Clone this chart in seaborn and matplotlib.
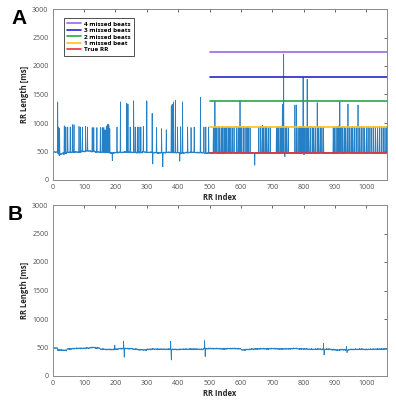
import numpy as np
import pandas as pd
import matplotlib
matplotlib.use("Agg")
import matplotlib.pyplot as plt
import seaborn as sns

N_BEATS = 1065
BLOCK = 15

# ---- Panel A data ----
a_base = [490, 455, 470, 485, 490, 490, 500, 510, 500, 490,
          485, 480, 475, 480, 485, 490, 485, 480, 480, 490,
          485, 480, 475, 480, 485, 480, 480, 470, 480, 485,
          480, 480, 470, 475, 480, 474, 474, 474, 474, 474,
          474, 474, 474, 474, 474, 474, 474, 474, 474, 474,
          474, 474, 474, 474, 474, 474, 474, 474, 474, 474,
          474, 474, 474, 474, 474, 474, 474, 474, 474, 474, 474]

a_spike_idx = [15, 17, 21, 36, 41, 47, 55, 62, 67, 83, 88, 94, 104, 110, 125, 130,
               140, 151, 157, 162, 166, 170, 173, 176, 178, 181, 204, 215, 235, 239,
               246, 257, 262, 269, 274, 280, 288, 299, 316, 330, 346, 361, 377, 380,
               384, 390, 397, 407, 413, 429, 440, 450, 470, 481, 487, 496,
               511, 516, 520, 526, 531, 536, 540, 545, 549, 553, 558, 562, 567, 572,
               577, 585, 590, 594, 596, 600, 606, 612, 618, 622, 628,
               656, 662, 667, 671, 676, 681, 686, 692,
               712, 716, 720, 725, 729, 731, 735, 740, 745, 750,
               771, 776, 781, 786, 790, 794, 797, 801, 806, 810, 815, 820,
               826, 831, 836, 842, 847, 852, 857, 862,
               893, 897, 902, 907, 911, 914, 918, 923, 928, 933, 938, 940, 945, 950,
               955, 960, 966, 972, 977, 982, 988, 993, 999, 1004, 1010, 1016, 1022,
               1028, 1034, 1040, 1046, 1052, 1058, 1063]
a_spike_val = [1370, 930, 910, 950, 930, 930, 930, 970, 970, 940, 930, 930, 940, 930, 920, 920,
               920, 920, 920, 920, 880, 940, 970, 980, 960, 900, 930, 1370, 1350, 1330,
               930, 1390, 930, 930, 930, 930, 940, 1390, 1170, 920, 900, 880, 1300, 1330,
               1370, 1400, 930, 935, 1370, 930, 920, 930, 1450, 930, 930, 930,
               920, 1380, 930, 940, 930, 920, 940, 930, 920, 930, 940, 920, 930, 910,
               930, 940, 930, 920, 1400, 930, 940, 920, 930, 940, 920,
               930, 940, 960, 930, 940, 930, 920, 930,
               920, 930, 940, 930, 920, 1330, 2210, 930, 940, 920,
               1316, 1316, 920, 930, 940, 930, 1800, 930, 920, 1766, 930, 940,
               930, 920, 930, 1357, 940, 930, 920, 930,
               930, 920, 940, 930, 950, 1375, 930, 940, 930, 920, 940, 1333, 930, 920,
               940, 930, 920, 1316, 930, 940, 930, 920, 930, 940, 930, 920, 940,
               930, 920, 940, 930, 920, 930, 940]

a_dip_idx = [20, 35, 189, 318, 350, 404, 643, 739, 800]
a_dip_val = [425, 440, 340, 280, 230, 330, 260, 410, 440]

# small beat-to-beat variation read from the baseline fuzz (ms), repeated along the record
beat_jitter = [0, 6, -4, 9, -8, 3, 12, -5, -11, 4, 7, -2, -9, 10, 2, -6, 5, -12, 8, -3,
               11, -7, 1, -10, 6, 3, -4, 9, -6, 0, -8, 5, 13, -9, 2]

# reference levels (1..4 missed beats and true RR), drawn from beat 502 on
level_names = ["4 missed beats", "3 missed beats", "2 missed beats", "1 missed beat", "True RR"]
level_values = [2245, 1807, 1386, 930, 474]
level_colors = ["#A066E0", "#2424D8", "#22A84A", "#FFC21A", "#E8303A"]
level_start = 502

# ---- Panel B data ----
b_base = [490, 455, 450, 475, 480, 485, 485, 490, 500, 490,
          470, 465, 465, 470, 480, 482, 478, 470, 460, 458,
          468, 472, 470, 468, 470, 466, 465, 468, 470, 472,
          470, 468, 478, 482, 480, 478, 476, 480, 482, 478,
          458, 465, 472, 476, 478, 476, 480, 478, 474, 476,
          478, 482, 476, 474, 470, 468, 472, 466, 470, 462,
          455, 462, 458, 465, 468, 470, 466, 468, 470, 472, 472]
b_spike_idx = [197, 225, 227, 375, 377, 483, 485, 862, 864, 935, 937]
b_spike_val = [540, 610, 330, 610, 280, 620, 340, 575, 370, 520, 410]

x_ticks = list(range(0, 1001, 100))
y_ticks = list(range(0, 3001, 500))


def build(base, idx, val):
    y = np.repeat(np.array(base, dtype=float), BLOCK)[:N_BEATS]
    jit = np.resize(np.array(beat_jitter, dtype=float), N_BEATS)
    y = y + jit
    for i, v in zip(idx, val):
        y[i] = v
    return pd.DataFrame({"RR Index": np.arange(1, N_BEATS + 1), "RR": y})


a_df = build(a_base, a_spike_idx + a_dip_idx, a_spike_val + a_dip_val)
b_df = build(b_base, b_spike_idx, b_spike_val)

sns.set_theme(style="white")
plt.rcParams["font.family"] = ["Open Sans", "DejaVu Sans"]

fig = plt.figure(figsize=(3.96, 4.0), dpi=100)
axA = fig.add_axes([0.133, 0.55, 0.844, 0.4275])
axB = fig.add_axes([0.133, 0.06, 0.844, 0.4275])

sig_color = "#2580C6"
tick_color = "#505050"

for ax, df in [(axA, a_df), (axB, b_df)]:
    sns.lineplot(data=df, x="RR Index", y="RR", ax=ax, color=sig_color,
                 linewidth=0.55, estimator=None, sort=False)
    ax.set_xlim(0, 1065)
    ax.set_ylim(0, 3000)
    ax.set_xticks(x_ticks)
    ax.set_yticks(y_ticks)
    ax.tick_params(direction="in", length=2.5, width=0.6, colors=tick_color,
                   labelsize=5, top=True, right=True, pad=3)
    ax.tick_params(axis="x", labeltop=False)
    ax.tick_params(axis="y", labelright=False)
    for s in ax.spines.values():
        s.set_color("#8a8a8a")
        s.set_linewidth(0.7)
        s.set_visible(True)
    ax.set_xlabel("RR Index", fontsize=5.5, fontweight="bold", color="#262626", labelpad=1)
    ax.set_ylabel("RR Length [ms]", fontsize=5.5, fontweight="bold", color="#262626", labelpad=2)

# reference levels in panel A
handles = []
for name, v, c in zip(level_names, level_values, level_colors):
    h, = axA.plot([level_start, 1065], [v, v], color=c, linewidth=1.2, label=name)
    handles.append(h)

leg = axA.legend(handles=handles, loc="upper left", bbox_to_anchor=(0.033, 0.947),
                 borderaxespad=0, fontsize=4.6, handlelength=2.2, handletextpad=0.5,
                 labelspacing=0.15, frameon=True, fancybox=False, borderpad=0.5)
leg.get_frame().set_edgecolor("#000000")
leg.get_frame().set_linewidth(0.6)
for t in leg.get_texts():
    t.set_fontweight("bold")
    t.set_color("#000000")

fig.text(0.03, 0.955, "A", fontsize=15, fontweight="bold", family="Liberation Sans",
         color="#000000", ha="left", va="center")
fig.text(0.02, 0.465, "B", fontsize=15, fontweight="bold", family="Liberation Sans",
         color="#000000", ha="left", va="center")

fig.savefig("out.png", dpi=100)
